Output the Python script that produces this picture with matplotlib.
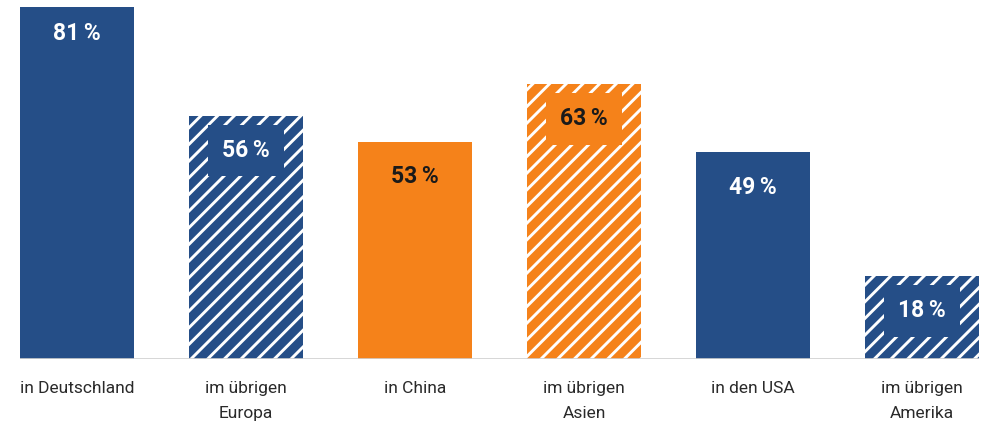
import matplotlib
matplotlib.use("Agg")
import matplotlib.pyplot as plt
from matplotlib import transforms

categories = ["in Deutschland", "im übrigen\nEuropa", "in China", "im übrigen\nAsien", "in den USA", "im übrigen\nAmerika"]
# bar heights as drawn in the picture (percent scale)
values = [81, 56, 50, 63.3, 47.6, 19.1]
# printed labels
labels = [81, 56, 53, 63, 49, 18]
colors = ["#254e87", "#254e87", "#f5821a", "#f5821a", "#254e87", "#254e87"]
hatched = [False, True, False, True, False, True]
text_colors = ["white", "white", "#1a1a1a", "#1a1a1a", "white", "white"]

plt.rcParams['font.family'] = ['Roboto', 'DejaVu Sans']
plt.rcParams['hatch.linewidth'] = 2.1

W, H = 988, 423
fig = plt.figure(figsize=(W / 100, H / 100), dpi=100)
ax = fig.add_axes([20 / W, (H - 359) / H, 959 / W, 359 / H])

bw = 0.675
x = list(range(len(values)))
for i, (v, c, h) in enumerate(zip(values, colors, hatched)):
    if h:
        ax.bar(i, v, width=bw, color=c, edgecolor="white", linewidth=0, hatch="//", zorder=2)
    else:
        ax.bar(i, v, width=bw, color=c, linewidth=0, zorder=2)

ax.set_xlim(-bw / 2, len(values) - 1 + bw / 2)
ax.set_ylim(0, 82.6)
ax.axhline(0, color="#d0d0d0", lw=1.2, zorder=3)

for s in ax.spines.values():
    s.set_visible(False)
ax.set_yticks([])
ax.set_xticks(x)
ax.set_xticklabels(categories, fontsize=12.5, color="#2a2a2a", linespacing=1.85)
ax.tick_params(axis="x", length=0, pad=15.5)

for i, (v, lab, c, tc, h) in enumerate(zip(values, labels, colors, text_colors, hatched)):
    off = transforms.offset_copy(ax.transData, fig=fig, x=0, y=-35 if v < 80 else -27, units="dots")
    kw = {}
    if h:
        kw["bbox"] = dict(boxstyle="square,pad=0.62", fc=c, ec="none")
    ax.text(i, v, f"{lab}\u2009%", transform=off, ha="center", va="center",
            fontsize=16.5, fontweight="bold", color=tc, zorder=4, **kw)

fig.savefig("out.png", dpi=100)
